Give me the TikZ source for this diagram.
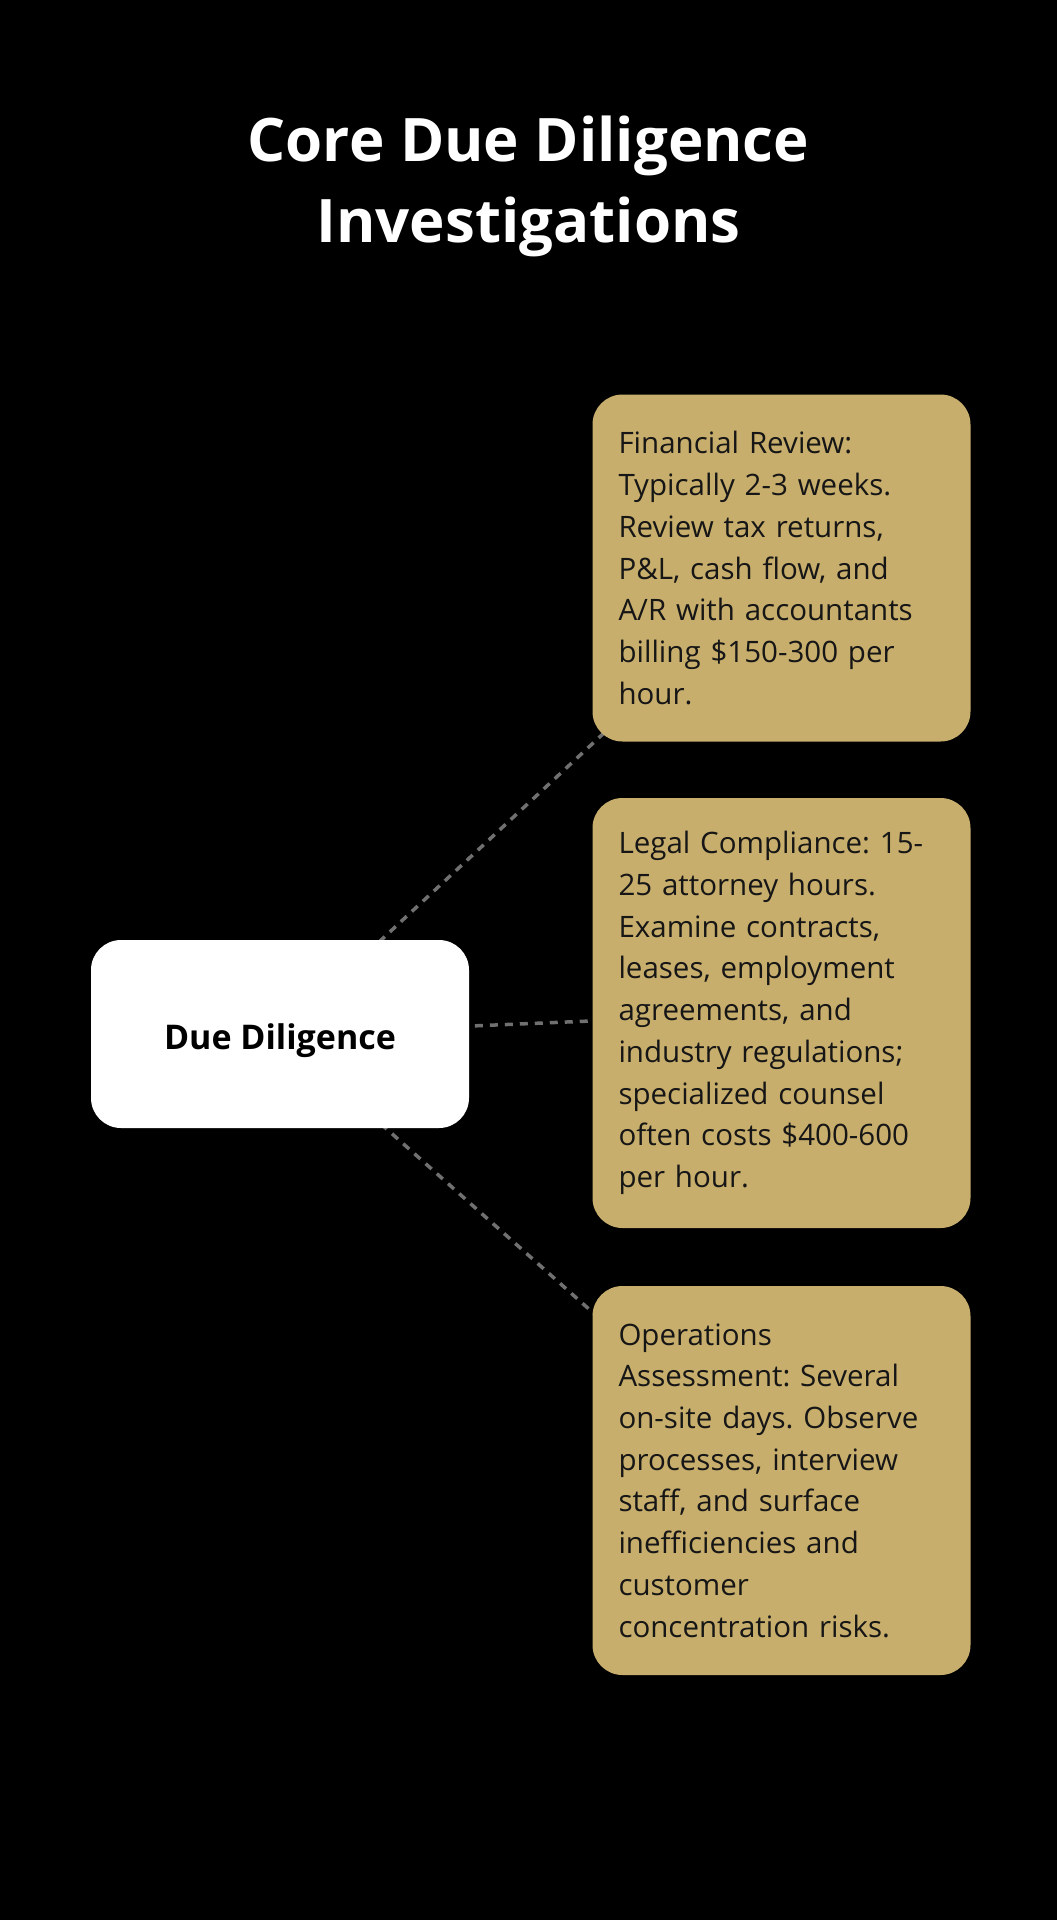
\documentclass[tikz,border=0pt]{standalone}
\usepackage{fontspec}
\setmainfont{Open Sans}
\usetikzlibrary{backgrounds}
\definecolor{gold}{RGB}{200,174,108}
\definecolor{ink}{RGB}{22,22,22}
\definecolor{wire}{RGB}{112,112,112}
\frenchspacing
\begin{document}
\begin{tikzpicture}[x=1pt, y=-1pt,
  hub/.style={fill=white, rounded corners=30pt, minimum width=378pt, minimum height=188pt,
    inner sep=0pt, text height=30pt, text depth=0pt, text=black, font=\fontsize{34}{40}\selectfont\bfseries},
  card/.style={fill=gold, rounded corners=30pt, text width=326pt, inner xsep=26pt, inner ysep=0pt,
    align=left, text=ink, font=\fontsize{29.5}{41.7}\selectfont},
  link/.style={draw=wire, line width=3.5pt, dash pattern=on 8pt off 7pt}]
  \useasboundingbox (0,0) rectangle (1057,1920);
  \node[white, font=\fontsize{60}{80}\selectfont\bfseries, anchor=base] (title) at (528.5,161.7) {Core Due Diligence};
  \node[white, font=\fontsize{60}{80}\selectfont\bfseries, anchor=base] (subtitle) at (528.5,242) {Investigations};
  \node[hub] (dd) at (280,1034) {Due Diligence};
  \node[card, minimum height=347pt] (fin) at (781.5,568) {Financial Review:\\Typically 2-3 weeks.\\Review tax returns,\\P\&L, cash flow, and\\A/R with accountants\\billing \$150-300 per\\hour.};
  \node[card, minimum height=430pt] (legal) at (781.5,1013) {Legal Compliance: 15-\\25 attorney hours.\\Examine contracts,\\leases, employment\\agreements, and\\industry regulations;\\specialized counsel\\often costs \$400-600\\per hour.};
  \node[card, minimum height=389pt] (ops) at (781.5,1480.5) {Operations\\Assessment: Several\\on-site days. Observe\\processes, interview\\staff, and surface\\inefficiencies and\\customer\\concentration risks.};
  \begin{scope}[on background layer]
    \fill[black] (0,0) rectangle (1057,1920);
    \draw[link] (dd.center) -- (fin.center);
    \draw[link] (dd.center) -- (legal.center);
    \draw[link] (dd.center) -- (ops.center);
  \end{scope}
\end{tikzpicture}
\end{document}
